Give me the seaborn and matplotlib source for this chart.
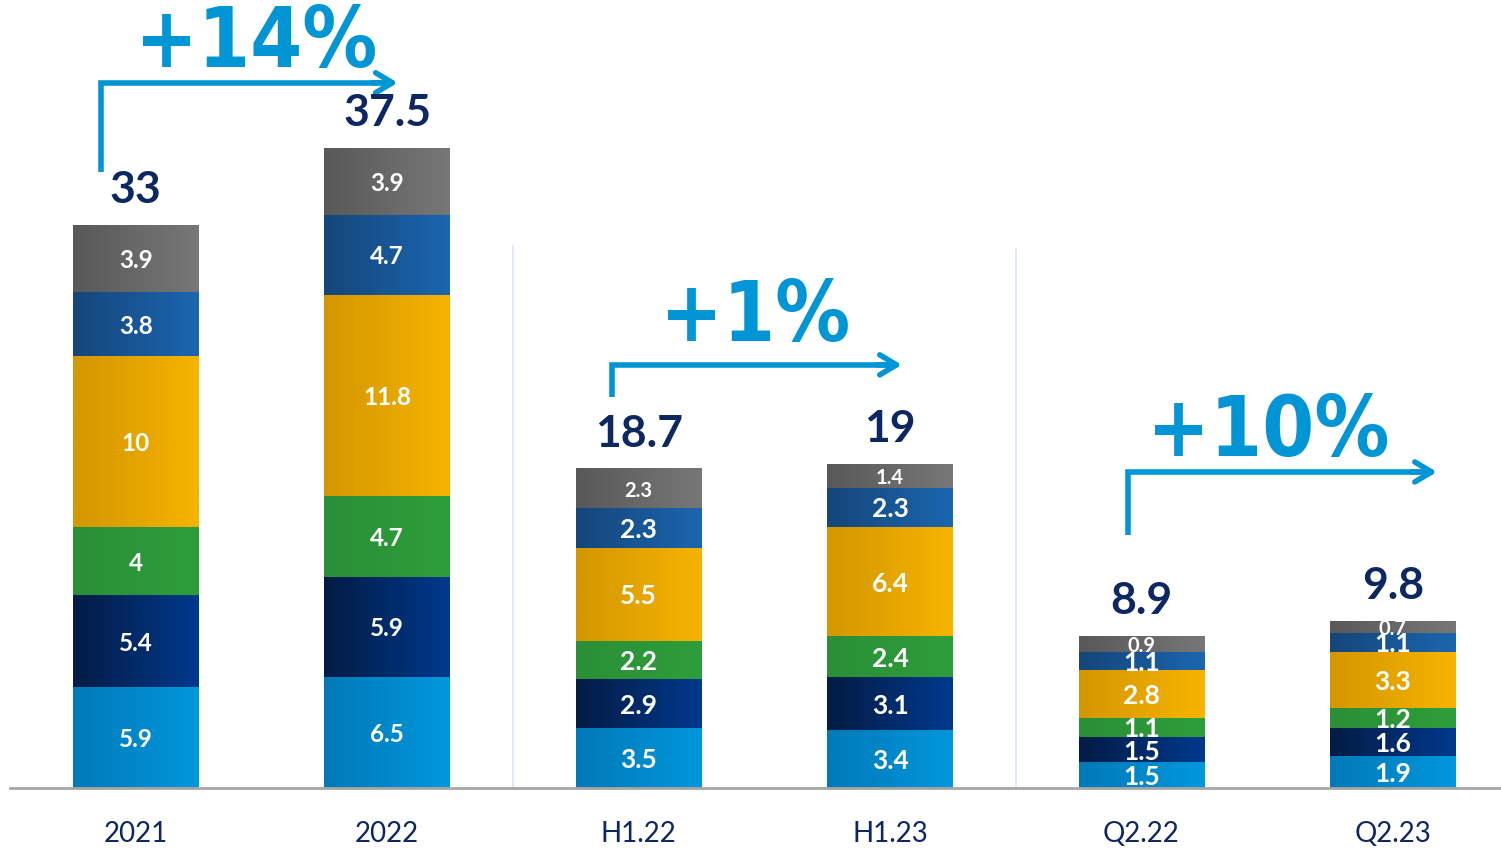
import matplotlib
matplotlib.use("Agg")

import numpy as np
import matplotlib.pyplot as plt
from matplotlib.colors import LinearSegmentedColormap
import seaborn as sns

# data
periods = ["2021", "2022", "H1.22", "H1.23", "Q2.22", "Q2.23"]
seg_light = [5.9, 6.5, 3.5, 3.4, 1.5, 1.9]
seg_navy = [5.4, 5.9, 2.9, 3.1, 1.5, 1.6]
seg_green = [4, 4.7, 2.2, 2.4, 1.1, 1.2]
seg_gold = [10, 11.8, 5.5, 6.4, 2.8, 3.3]
seg_blue = [3.8, 4.7, 2.3, 2.3, 1.1, 1.1]
seg_gray = [3.9, 3.9, 2.3, 1.4, 0.9, 0.7]
totals = [33, 37.5, 18.7, 19, 8.9, 9.8]
growth_labels = ["+14%", "+1%", "+10%"]

layers = [seg_light, seg_navy, seg_green, seg_gold, seg_blue, seg_gray]
# left -> right gradient colours per layer
grads = [
    ("#0079b8", "#0097dc"),
    ("#031c45", "#00398c"),
    ("#2a8f37", "#2e9e3b"),
    ("#d39700", "#f6b300"),
    ("#15467a", "#1b66b0"),
    ("#595959", "#777777"),
]

NAVY = "#0d2762"
CYAN = "#0096d6"

sns.set_theme(style="white")
plt.rcParams["font.family"] = ["Lato", "DejaVu Sans"]

fig = plt.figure(figsize=(15.01, 8.51), dpi=100)
ax = fig.add_axes([10 / 1501, 63 / 851, 1 - 10 / 1501, 788 / 851])

cum = np.cumsum(np.array(layers), axis=0)
# draw tallest first so the shorter stacks sit on top
for i in range(len(layers) - 1, -1, -1):
    sns.barplot(x=periods, y=cum[i], color=grads[i][1], width=0.5,
                order=periods, ax=ax, zorder=2 + (5 - i) * 0.01)

# gradient overlay on every bar segment
grad_row = np.linspace(0, 1, 64).reshape(1, -1)
n = len(periods)
for li, patch in enumerate(ax.patches):
    layer = len(layers) - 1 - li // n
    j = li % n
    x0 = patch.get_x()
    w = patch.get_width()
    top = patch.get_height()
    bot = top - layers[layer][j]
    cmap = LinearSegmentedColormap.from_list("g", grads[layer])
    ax.imshow(grad_row, cmap=cmap, extent=(x0, x0 + w, bot, top),
              aspect="auto", interpolation="bilinear", zorder=3 + layer * 0.01)

# segment labels (half-year / quarter bars use slightly bigger text)
for layer, vals in enumerate(layers):
    for j, v in enumerate(vals):
        mid = cum[layer][j] - v / 2
        size = 17.5 if j < 2 else 19
        if layer == 5 and j >= 2:
            size = 14.5
        ax.text(j, mid, f"{v:g}", ha="center", va="center_baseline", color="white",
                fontsize=size, fontweight="bold", zorder=5)

# totals
for j, t in enumerate(totals):
    ax.text(j, t + 1.3, f"{t:g}", ha="center", va="baseline", color=NAVY,
            fontsize=32, fontweight="bold", zorder=5)

# growth arrows
arrow_geo = [(-0.139, 36.1, 41.35, 1.042), (1.893, 22.93, 24.81, 3.047),
             (3.946, 14.84, 18.53, 5.175)]
text_pos = [(0.481, 42.3), (2.465, 26.2), (4.503, 19.45)]
for (xs, y0, y1, xe), lab, (tx, ty) in zip(arrow_geo, growth_labels, text_pos):
    ax.plot([xs, xs, xe - 0.05], [y0, y1, y1], color=CYAN, lw=4,
            solid_joinstyle="miter", solid_capstyle="butt", zorder=4)
    ax.annotate("", xy=(xe, y1), xytext=(xe - 0.1, y1),
                arrowprops=dict(arrowstyle="->,head_length=1.0,head_width=0.6",
                                color=CYAN, lw=4, shrinkA=0, shrinkB=0),
                zorder=4)
    ax.text(tx, ty, lab, ha="center", va="baseline", color=CYAN, fontsize=60,
            fontweight="bold", family="DejaVu Sans", fontstretch="condensed",
            zorder=5)

# separators
for sx, top in [(1.5, 31.8), (3.5, 31.6)]:
    ax.plot([sx, sx], [0, top], color="#dae8f6", lw=1.2, zorder=1)

ax.set_xlim(-0.5, 5.43)
ax.set_ylim(0, 46.2)
ax.set_yticks([])
ax.set_ylabel("")
ax.set_xlabel("")
for s in ["top", "right", "left"]:
    ax.spines[s].set_visible(False)
ax.spines["bottom"].set_color("#a6a6a6")
ax.spines["bottom"].set_linewidth(2)
ax.spines["bottom"].set_zorder(6)
ax.tick_params(axis="x", length=0, pad=24, labelsize=20, labelcolor=NAVY)
ax.set_facecolor("white")

fig.savefig("out.png", dpi=100)
plt.close(fig)
